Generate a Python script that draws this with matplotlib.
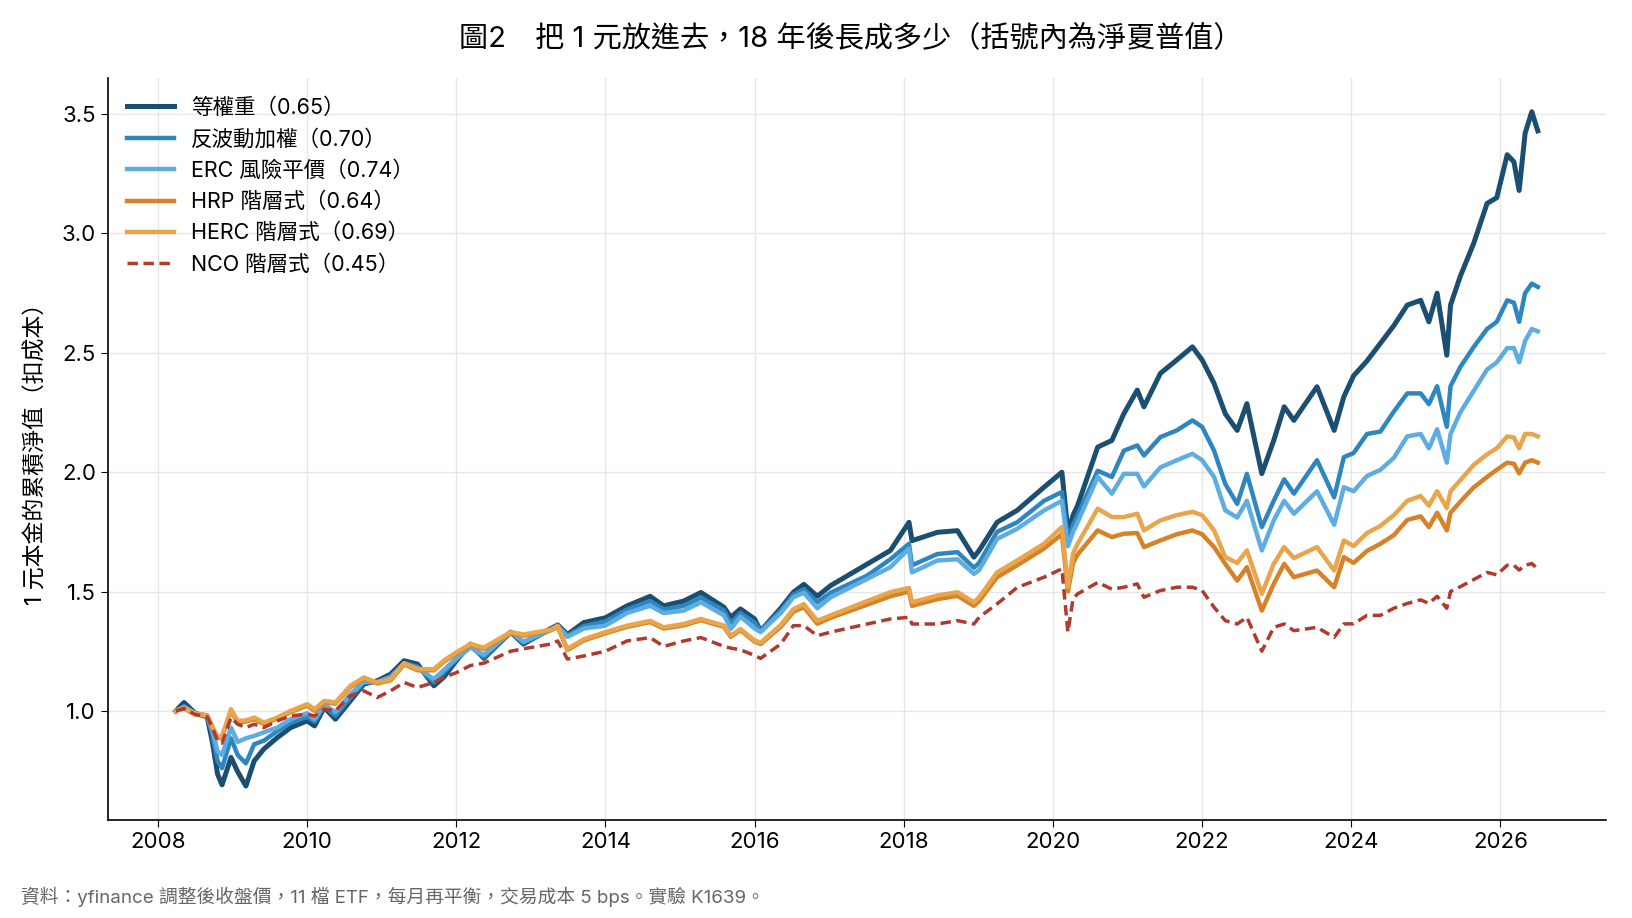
import matplotlib
matplotlib.use("Agg")
import matplotlib.pyplot as plt

plt.rcParams['font.family'] = ['Inter', 'Noto Sans CJK TC', 'DejaVu Sans']

# decimal-year dates
dates = [2008.24, 2008.35, 2008.5, 2008.66, 2008.73, 2008.8, 2008.86, 2008.98, 2009.07, 2009.18,
         2009.29, 2009.42, 2009.6, 2009.78, 2010.0, 2010.1, 2010.23, 2010.38, 2010.58, 2010.76,
         2010.94, 2011.12, 2011.3, 2011.48, 2011.7, 2011.83, 2012.0, 2012.19, 2012.37, 2012.73,
         2012.9, 2013.27, 2013.36, 2013.49, 2013.71, 2014.0, 2014.29, 2014.6, 2014.78, 2015.05,
         2015.28, 2015.59, 2015.68, 2015.81, 2016.0, 2016.08, 2016.35, 2016.52, 2016.66, 2016.84,
         2017.02, 2017.51, 2017.82, 2018.07, 2018.11, 2018.45, 2018.72, 2018.94, 2019.01, 2019.25,
         2019.52, 2019.88, 2020.12, 2020.2, 2020.27, 2020.33, 2020.6, 2020.79, 2020.95, 2021.13,
         2021.22, 2021.44, 2021.66, 2021.87, 2022.0, 2022.16, 2022.31, 2022.47, 2022.6, 2022.8,
         2022.96, 2023.1, 2023.23, 2023.54, 2023.77, 2023.9, 2024.03, 2024.21, 2024.39, 2024.57,
         2024.75, 2024.93, 2025.04, 2025.15, 2025.28, 2025.33, 2025.46, 2025.64, 2025.82, 2025.95,
         2026.09, 2026.18, 2026.25, 2026.33, 2026.42, 2026.5]

equal_w = [1.0, 1.035, 0.99, 0.975, 0.87, 0.735, 0.69, 0.805, 0.745, 0.685,
           0.79, 0.84, 0.888, 0.93, 0.958, 0.937, 1.014, 0.965, 1.042, 1.112,
           1.126, 1.154, 1.21, 1.196, 1.105, 1.14, 1.21, 1.28, 1.22, 1.33,
           1.28, 1.345, 1.36, 1.32, 1.37, 1.39, 1.44, 1.48, 1.44, 1.46,
           1.496, 1.434, 1.392, 1.427, 1.385, 1.335, 1.43, 1.497, 1.53, 1.48,
           1.525, 1.615, 1.672, 1.79, 1.713, 1.748, 1.755, 1.644, 1.672, 1.79,
           1.84, 1.937, 2.0, 1.75, 1.82, 1.86, 2.105, 2.133, 2.245, 2.344,
           2.274, 2.414, 2.47, 2.525, 2.47, 2.372, 2.245, 2.175, 2.287, 1.994,
           2.133, 2.274, 2.217, 2.358, 2.175, 2.316, 2.404, 2.466, 2.54, 2.614,
           2.70, 2.72, 2.63, 2.75, 2.49, 2.70, 2.82, 2.958, 3.126, 3.15,
           3.33, 3.30, 3.18, 3.42, 3.51, 3.43]

inv_vol = [1.0, 1.02, 0.99, 0.978, 0.9, 0.79, 0.76, 0.885, 0.815, 0.78,
           0.86, 0.875, 0.915, 0.95, 0.975, 0.955, 1.02, 0.98, 1.055, 1.118,
           1.122, 1.145, 1.2, 1.185, 1.12, 1.16, 1.215, 1.27, 1.225, 1.33,
           1.285, 1.34, 1.355, 1.315, 1.355, 1.375, 1.425, 1.46, 1.425, 1.44,
           1.475, 1.42, 1.365, 1.41, 1.37, 1.335, 1.42, 1.487, 1.51, 1.455,
           1.495, 1.567, 1.635, 1.70, 1.61, 1.657, 1.665, 1.60, 1.62, 1.75,
           1.79, 1.88, 1.917, 1.72, 1.78, 1.82, 2.006, 1.98, 2.09, 2.112,
           2.07, 2.147, 2.175, 2.217, 2.19, 2.09, 1.951, 1.867, 1.993, 1.77,
           1.88, 1.97, 1.91, 2.05, 1.895, 2.063, 2.08, 2.16, 2.17, 2.254,
           2.33, 2.33, 2.285, 2.36, 2.19, 2.36, 2.44, 2.524, 2.60, 2.63,
           2.72, 2.71, 2.63, 2.75, 2.79, 2.776]

erc = [1.0, 1.015, 0.99, 0.98, 0.92, 0.83, 0.815, 0.93, 0.87, 0.885,
       0.895, 0.91, 0.93, 0.965, 0.99, 0.965, 1.025, 0.995, 1.07, 1.122,
       1.12, 1.14, 1.195, 1.18, 1.133, 1.17, 1.22, 1.265, 1.235, 1.33,
       1.29, 1.34, 1.355, 1.31, 1.345, 1.357, 1.41, 1.44, 1.41, 1.42,
       1.455, 1.40, 1.343, 1.395, 1.345, 1.33, 1.41, 1.476, 1.495, 1.43,
       1.476, 1.553, 1.602, 1.68, 1.58, 1.63, 1.635, 1.574, 1.59, 1.72,
       1.763, 1.84, 1.88, 1.69, 1.75, 1.79, 1.98, 1.91, 1.993, 1.993,
       1.94, 2.02, 2.05, 2.077, 2.05, 1.98, 1.84, 1.81, 1.88, 1.672,
       1.798, 1.88, 1.826, 1.92, 1.78, 1.937, 1.92, 1.984, 2.01, 2.06,
       2.15, 2.16, 2.10, 2.18, 2.04, 2.16, 2.25, 2.34, 2.43, 2.46,
       2.52, 2.52, 2.46, 2.55, 2.60, 2.59]

hrp = [1.0, 1.01, 0.985, 0.98, 0.93, 0.885, 0.89, 1.0, 0.952, 0.955,
       0.965, 0.945, 0.968, 0.995, 1.022, 1.0, 1.036, 1.03, 1.1, 1.135,
       1.115, 1.128, 1.195, 1.17, 1.17, 1.205, 1.24, 1.275, 1.26, 1.325,
       1.315, 1.338, 1.352, 1.255, 1.295, 1.325, 1.352, 1.372, 1.345, 1.358,
       1.38, 1.352, 1.31, 1.338, 1.29, 1.28, 1.352, 1.415, 1.435, 1.365,
       1.39, 1.445, 1.48, 1.50, 1.44, 1.468, 1.482, 1.44, 1.46, 1.56,
       1.61, 1.68, 1.74, 1.50, 1.62, 1.655, 1.756, 1.728, 1.742, 1.745,
       1.686, 1.714, 1.74, 1.756, 1.74, 1.686, 1.616, 1.546, 1.602, 1.42,
       1.532, 1.616, 1.56, 1.588, 1.518, 1.644, 1.62, 1.67, 1.70, 1.736,
       1.80, 1.815, 1.77, 1.83, 1.756, 1.83, 1.876, 1.936, 1.98, 2.01,
       2.04, 2.035, 1.995, 2.04, 2.05, 2.04]

herc = [1.0, 1.012, 0.988, 0.982, 0.935, 0.89, 0.895, 1.007, 0.958, 0.96,
        0.972, 0.951, 0.972, 1.0, 1.028, 1.007, 1.042, 1.035, 1.105, 1.14,
        1.119, 1.133, 1.2, 1.175, 1.175, 1.21, 1.245, 1.28, 1.265, 1.33,
        1.32, 1.34, 1.357, 1.26, 1.30, 1.33, 1.357, 1.377, 1.35, 1.364,
        1.385, 1.357, 1.315, 1.343, 1.295, 1.286, 1.36, 1.426, 1.447, 1.377,
        1.40, 1.46, 1.497, 1.515, 1.455, 1.483, 1.497, 1.455, 1.476, 1.58,
        1.63, 1.70, 1.77, 1.52, 1.66, 1.70, 1.847, 1.812, 1.812, 1.826,
        1.756, 1.798, 1.82, 1.834, 1.82, 1.756, 1.644, 1.62, 1.672, 1.49,
        1.616, 1.686, 1.64, 1.686, 1.588, 1.714, 1.69, 1.745, 1.775, 1.82,
        1.88, 1.90, 1.86, 1.92, 1.85, 1.92, 1.966, 2.03, 2.075, 2.10,
        2.15, 2.145, 2.10, 2.16, 2.16, 2.15]

nco = [1.0, 1.01, 0.985, 0.975, 0.93, 0.875, 0.865, 0.972, 0.944, 0.93,
       0.944, 0.93, 0.958, 0.979, 0.986, 0.979, 1.007, 1.0, 1.063, 1.084,
       1.056, 1.084, 1.119, 1.098, 1.119, 1.14, 1.16, 1.19, 1.2, 1.25,
       1.26, 1.28, 1.293, 1.217, 1.23, 1.25, 1.293, 1.307, 1.27, 1.293,
       1.307, 1.27, 1.263, 1.256, 1.232, 1.22, 1.28, 1.357, 1.357, 1.315,
       1.33, 1.364, 1.385, 1.392, 1.364, 1.364, 1.378, 1.364, 1.392, 1.448,
       1.517, 1.56, 1.595, 1.33, 1.47, 1.49, 1.538, 1.51, 1.518, 1.532,
       1.476, 1.504, 1.518, 1.518, 1.504, 1.434, 1.378, 1.364, 1.392, 1.25,
       1.35, 1.364, 1.336, 1.35, 1.308, 1.364, 1.365, 1.40, 1.40, 1.43,
       1.45, 1.465, 1.45, 1.48, 1.43, 1.50, 1.52, 1.55, 1.58, 1.57,
       1.61, 1.61, 1.59, 1.61, 1.617, 1.595]

labels = ['等權重（0.65）', '反波動加權（0.70）', 'ERC 風險平價（0.74）',
          'HRP 階層式（0.64）', 'HERC 階層式（0.69）', 'NCO 階層式（0.45）']
colors = ['#1b4f72', '#2e86c1', '#5dade2', '#d68228', '#e8a54b', '#b03a2e']

fig = plt.figure(figsize=(16.32, 9.18), dpi=100)
ax = fig.add_axes([0.066, 0.107, 0.918, 0.808])

series = [equal_w, inv_vol, erc, hrp, herc]
widths = [3.6, 3.2, 3.2, 3.2, 3.2]
for vals, lab, col, lw in zip(series, labels[:5], colors[:5], widths):
    ax.plot(dates, vals, color=col, lw=lw, label=lab, solid_joinstyle='round')
ax.plot(dates, nco, color=colors[5], lw=2.5, linestyle=(0, (3, 1.6)), label=labels[5])

ax.set_xticks(range(2008, 2027, 2))
ax.set_xticklabels([str(y) for y in range(2008, 2027, 2)])
ax.set_yticks([1.0, 1.5, 2.0, 2.5, 3.0, 3.5])
ax.tick_params(labelsize=16, length=5)
ax.grid(True, color='#e6e6e6', linewidth=1)
ax.set_axisbelow(True)
for s in ['top', 'right']:
    ax.spines[s].set_visible(False)
ax.spines['left'].set_linewidth(1.2)
ax.spines['bottom'].set_linewidth(1.2)

ax.set_ylabel('1 元本金的累積淨值（扣成本）', fontsize=16.5, labelpad=10)
ax.legend(loc='upper left', frameon=False, fontsize=15.5, handlelength=2.2,
          handletextpad=0.75, labelspacing=0.5, borderaxespad=0.5,
          bbox_to_anchor=(0.0, 1.0))

fig.text(0.521, 0.958, '圖2　把 1 元放進去，18 年後長成多少（括號內為淨夏普值）',
         ha='center', va='center', fontsize=21)
fig.text(0.013, 0.023, '資料：yfinance 調整後收盤價，11 檔 ETF，每月再平衡，交易成本 5 bps。實驗 K1639。',
         ha='left', va='center', fontsize=13.5, color='#666666')

fig.savefig('out.png', dpi=100)
